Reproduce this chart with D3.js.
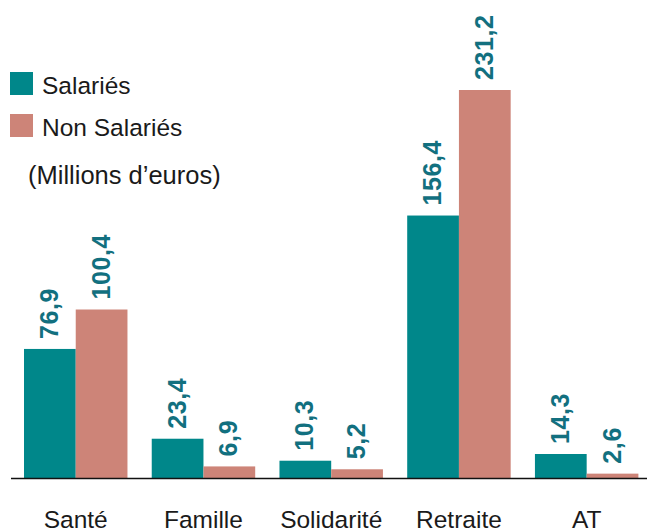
<!DOCTYPE html>
<meta charset="utf-8">
<style>
body { margin: 0; background: #fff; }
svg text { font-family: 'Liberation Sans', Arial, sans-serif; }
.cat { font-size: 24.5px; fill: #1a1a1a; text-anchor: middle; }
.legend { font-size: 24.5px; fill: #1a1a1a; }
.val { font-size: 25px; font-weight: bold; fill: #12707f; letter-spacing: 0.6px; }
</style>
<body>
<svg width="647" height="530"></svg>
<script src="https://d3js.org/d3.v7.min.js"></script>
<script>

var categories = ["Santé", "Famille", "Solidarité", "Retraite", "AT"];
var salaries = [76.9, 23.4, 10.3, 156.4, 14.3];
var nonSalaries = [100.4, 6.9, 5.2, 231.2, 2.6];
var seriesNames = ["Salariés", "Non Salariés"];
var colors = ["#00878a", "#cd8478"];

var svg = d3.select("svg");

var x = d3.scaleBand()
    .domain(categories)
    .range([24, 638.4])
    .paddingInner(0.19)
    .paddingOuter(0);

var x1 = d3.scaleBand()
    .domain(seriesNames)
    .range([0, x.bandwidth()]);

var y = d3.scaleLinear()
    .domain([0, 231.2])
    .range([478, 90]);

var rows = categories.map(function(c, i) {
  return {cat: c, values: [salaries[i], nonSalaries[i]]};
});

var group = svg.selectAll(".grp")
  .data(rows)
  .enter().append("g")
    .attr("class", "grp")
    .attr("transform", function(d) { return "translate(" + x(d.cat) + ",0)"; });

var bars = group.selectAll("g")
  .data(function(d) { return d.values.map(function(v, j) { return {name: seriesNames[j], value: v, j: j}; }); })
  .enter().append("g");

bars.append("rect")
    .attr("x", function(d) { return x1(d.name); })
    .attr("y", function(d) { return y(d.value); })
    .attr("width", x1.bandwidth())
    .attr("height", function(d) { return y(0) - y(d.value); })
    .attr("fill", function(d) { return colors[d.j]; });

bars.append("text")
    .attr("class", "val")
    .attr("transform", function(d) {
      var cx = x1(d.name) + x1.bandwidth() / 2 + 8;
      return "translate(" + cx + "," + (y(d.value) - 10) + ") rotate(-90)";
    })
    .text(function(d) { return d3.format(".1f")(d.value).replace(".", ","); });

// axis baseline
svg.append("line")
    .attr("x1", 11).attr("x2", 647)
    .attr("y1", y(0) + 0.5).attr("y2", y(0) + 0.5)
    .attr("stroke", "#111").attr("stroke-width", 1.6);

svg.selectAll(".cat")
  .data(categories)
  .enter().append("text")
    .attr("class", "cat")
    .attr("x", function(d) { return x(d) + x.bandwidth() / 2; })
    .attr("y", 528)
    .text(function(d) { return d; });

// legend
var legend = svg.selectAll(".lg")
  .data(seriesNames)
  .enter().append("g")
    .attr("class", "lg")
    .attr("transform", function(d, i) { return "translate(10," + (72 + i * 42) + ")"; });

legend.append("rect")
    .attr("width", 23).attr("height", 23)
    .attr("fill", function(d, i) { return colors[i]; });

legend.append("text")
    .attr("class", "legend")
    .attr("x", 32).attr("y", 22)
    .text(function(d) { return d; });

svg.append("text")
    .attr("class", "legend")
    .attr("x", 28).attr("y", 184)
    .style("font-size", "25.5px")
    .text("(Millions d’euros)");

</script>
